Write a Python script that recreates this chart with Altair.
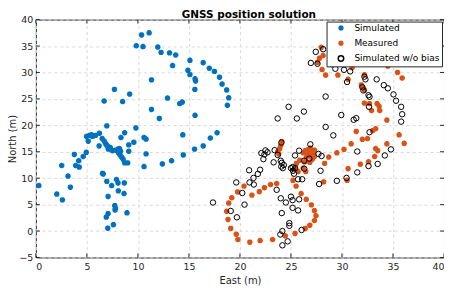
import altair as alt
import pandas as pd

# ---------------- data ----------------
series_names = ["Simulated", "Measured", "Simulated w/o bias"]
series_colors = ["#0072BD", "#D95319", "#000000"]
x_ticks = [0, 5, 10, 15, 20, 25, 30, 35, 40]
y_ticks = [-5, 0, 5, 10, 15, 20, 25, 30, 35, 40]

sim_x = [9.84, 10.36, 10.5, 11.1, 11.95, 12.27, 13.1, 13.7, 13.4, 15.1, 16.4, 17.0, 17.5, 14.9, 15.1,
         15.6, 15.65, 18.0, 18.25, 18.7, 18.9, 18.77, 15.58, 14.1, 14.35, 12.9, 11.33, 11.33, 12.1, 15.6,
         7.7, 9.19, 6.69, 8.5, 6.95, 9.8, 14.4, 17.76, 17.1, 16.4, 15.55, 14.45, 8.7, 8.34, 10.6, 10.8,
         9.6, 9.1, 9.1, 10.8, 10.6, 12.4, 13.3,
         0.29, 2.05, 2.6, 2.53, 3.15, 3.38, 3.77, 3.9, 4.25, 4.2, 4.64, 4.94, 5.13, 4.97, 5.25, 5.45,
         5.65, 5.85, 5.5, 6.23, 6.2, 6.5, 6.7, 6.85, 6.95, 7.05, 7.2, 7.3, 7.1, 7.5, 7.85, 8.05, 8.2,
         8.3, 8.1, 8.25, 8.4, 8.55, 8.7, 9.0, 6.53, 6.6, 6.95, 7.43, 7.9, 8.05, 8.67, 8.08, 8.64, 7.08,
         7.73, 7.8, 7.76, 8.93, 7.08, 6.9, 7.6, 7.05]
sim_y = [35.05, 37.1, 34.9, 37.5, 34.8, 33.8, 33.7, 33.3, 31.3, 32.3, 31.85, 30.8, 30.2, 30.4, 29.6,
         28.8, 28.4, 29.1, 27.8, 26.7, 25.2, 23.8, 26.8, 24.1, 24.4, 25.15, 28.6, 23.0, 21.3, 21.9,
         26.8, 25.9, 24.6, 24.5, 19.9, 19.5, 18.2, 18.6, 17.6, 16.1, 15.5, 14.4, 18.6, 17.7, 17.7, 17.4,
         16.8, 16.3, 15.1, 14.6, 12.2, 12.7, 13.3,
         8.6, 7.0, 5.9, 12.4, 10.4, 8.3, 14.5, 12.4, 12.1, 13.3, 14.1, 14.9, 17.0, 17.9, 18.1, 18.2,
         18.0, 18.1, 17.95, 18.5, 16.1, 17.5, 17.0, 16.5, 16.2, 16.0, 15.6, 15.8, 15.5, 15.2, 15.3, 15.5, 15.6,
         15.1, 14.8, 14.4, 14.0, 13.6, 12.9, 12.9, 10.9, 10.8, 9.4, 8.6, 9.75, 9.1, 9.1, 7.6, 7.1, 6.55,
         4.8, 4.3, 4.0, 3.45, 3.3, 2.65, 1.2, 0.55]

meas_x = [27.97, 27.8, 28.15, 27.6, 28.05, 28.4, 29.6, 30.75, 31.0, 30.6, 32.2, 31.9, 32.0, 32.2, 34.5,
          35.45, 35.9, 32.2, 32.7, 33.44, 33.64, 32.9, 33.7, 34.4, 33.3, 33.0, 31.4, 32.5, 32.0, 35.6,
          36.1, 34.4, 30.9, 30.2, 29.5, 28.7, 33.3, 33.5, 28.3, 28.2, 30.5, 30.6, 31.8, 32.6, 33.2,
          24.1, 23.9, 24.0, 23.7, 23.8,
          26.4, 26.7, 27.0, 26.6, 26.9, 27.2, 26.5, 27.1, 26.85, 27.3, 26.2, 26.9, 27.3,
          25.87, 25.54, 25.4, 25.7, 26.2, 26.35, 26.45,
          25.2, 25.5, 26.0, 26.5, 27.0, 27.3, 27.45, 27.3, 26.85, 26.4, 25.4, 24.45, 23.2, 21.98, 20.97,
          19.8, 19.64, 19.1, 18.83, 18.7, 18.9, 19.2, 19.77, 20.4, 21.17, 21.9, 22.4, 23.0, 23.6]
meas_y = [34.75, 32.7, 33.2, 31.9, 30.55, 29.5, 29.5, 31.8, 30.9, 28.7, 29.55, 27.65, 27.3, 26.7, 31.2,
          30.0, 28.95, 24.2, 24.1, 24.1, 23.6, 22.8, 22.8, 21.0, 19.35, 19.0, 18.85, 17.5, 17.35, 18.2,
          16.6, 16.5, 16.5, 15.45, 14.8, 14.0, 15.6, 15.2, 12.8, 9.3, 9.6, 11.8, 12.65, 13.1, 14.1,
          16.9, 15.6, 16.2, 15.0, 14.6,
          15.2, 15.4, 15.0, 14.6, 14.2, 14.6, 13.9, 13.6, 13.0, 15.3, 14.8, 15.7, 14.1,
          13.4, 12.8, 11.9, 11.25, 11.9, 13.1, 11.25,
          9.6, 8.5, 7.1, 6.0, 4.95, 3.85, 2.9, 2.0, 1.1, 0.5, -0.45, -0.9, -1.6, -1.8, -2.1,
          -1.6, -0.6, 0.5, 2.2, 3.75, 5.3, 6.3, 7.4, 8.5, 6.8, 7.45, 8.2, 8.8, 9.0]

nob_x = [27.43, 28.15, 26.95, 27.6, 29.0, 29.35, 30.2, 30.8, 30.5, 32.2, 32.3, 33.4, 34.1, 34.5, 35.05,
         35.3, 35.8, 35.9, 35.8, 32.0, 32.1, 32.6, 32.7, 32.65, 32.7, 28.4, 24.77, 26.27, 25.58, 23.7,
         29.93, 31.15, 31.4, 28.4, 29.15, 26.9, 24.06, 34.8, 31.5,
         17.36,
         19.64, 20.23, 20.45, 19.1, 19.7, 20.9, 20.94, 21.36, 21.33, 21.75, 21.98,
         22.1, 22.5, 22.7, 22.4, 22.3, 23.4, 23.7, 23.3, 24.0, 24.1, 24.3, 24.05, 24.2,
         23.6, 24.0, 24.5, 25.0, 25.16, 25.8, 25.16, 25.7, 24.1, 24.84, 24.84, 24.16, 23.96, 24.68, 24.16, 26.04,
         25.0, 25.16, 25.4, 25.2, 25.4, 25.8, 25.3, 25.7, 26.1, 26.3, 26.3, 26.8, 27.7, 28.0, 27.9, 27.76,
         29.5, 30.45, 31.5, 32.6, 33.5, 34.2]
nob_y = [33.9, 34.4, 31.8, 31.65, 31.55, 30.7, 30.5, 30.2, 28.2, 29.2, 28.7, 28.7, 27.6, 27.0, 25.85,
         24.65, 23.5, 22.1, 20.7, 27.2, 26.6, 25.7, 25.4, 23.5, 18.7, 25.45, 23.5, 22.6, 21.3, 21.3,
         21.95, 21.05, 21.35, 19.7, 18.1, 16.4, 16.75, 15.45, 15.05,
         5.4,
         9.2, 7.2, 5.0, 3.8, 2.6, 11.5, 9.2, 8.8, 10.05, 10.8, 11.6,
         14.75, 15.25, 14.9, 14.5, 13.6, 15.3, 14.4, 13.0, 13.3, 12.9, 12.5, 12.2, 11.9,
         7.8, 6.2, 5.4, 6.5, 5.85, 6.0, 4.4, 3.9, 3.4, 1.5, 1.0, 0.0, -0.65, -1.95, -2.7, 0.2,
         11.9, 12.1, 11.9, 11.4, 14.3, 15.2, 10.85, 9.8, 9.8, 13.3, 11.8, 13.7, 14.6, 14.2, 11.4, 8.9,
         9.5, 10.05, 11.1, 12.3, 12.7, 14.3]

# ---------------- tables ----------------
star_df = pd.DataFrame({
    "east": sim_x + meas_x,
    "north": sim_y + meas_y,
    "series": [series_names[0]] * len(sim_x) + [series_names[1]] * len(meas_x),
})
circ_df = pd.DataFrame({"east": nob_x, "north": nob_y, "series": [series_names[2]] * len(nob_x)})
xt_df = pd.DataFrame({"east": x_ticks})
yt_df = pd.DataFrame({"north": y_ticks})

W, H = 410, 239
TICK = 4
ASTER = "M0,-1L0,1M-1,0L1,0M-0.72,-0.72L0.72,0.72M-0.72,0.72L0.72,-0.72"
FONT = "DejaVu Sans"

xs = alt.Scale(domain=[0, 40], nice=False, zero=False)
ys = alt.Scale(domain=[-5, 40], nice=False, zero=False)
cs = alt.Scale(domain=series_names, range=series_colors)
ss = alt.Scale(domain=series_names, range=[ASTER, ASTER, "circle"])

legend = alt.Legend(
    title=None, orient="none", legendX=292, legendY=2,
    fillColor="white", strokeColor="#262626", padding=2, cornerRadius=0,
    symbolSize=30, symbolStrokeWidth=1.5, symbolOffset=8, labelOffset=9,
    labelFont=FONT, labelFontSize=9, labelColor="black", rowPadding=2.3, labelLimit=300,
)

x_axis = alt.Axis(values=x_ticks, title="East (m)", labelPadding=4, titleBaseline="alphabetic",
                  titleY=26, titleX=W / 2, grid=True)
y_axis = alt.Axis(values=y_ticks, title="North (m)", labelPadding=3, titleBaseline="alphabetic",
                  titleX=-20, titleY=H / 2, grid=True)
x_enc = alt.X("east:Q", scale=xs, axis=x_axis)
y_enc = alt.Y("north:Q", scale=ys, axis=y_axis)

stars = alt.Chart(star_df).mark_point(filled=False, strokeWidth=1.8, size=30, opacity=1).encode(
    x=x_enc, y=y_enc,
    color=alt.Color("series:N", scale=cs, legend=legend),
    shape=alt.Shape("series:N", scale=ss, legend=legend),
)
circles = alt.Chart(circ_df).mark_point(filled=False, strokeWidth=1.0, size=30, opacity=1).encode(
    x=x_enc, y=y_enc,
    color=alt.Color("series:N", scale=cs, legend=legend),
    shape=alt.Shape("series:N", scale=ss, legend=legend),
)

tick_style = dict(color="#262626", strokeWidth=1)
bt = alt.Chart(xt_df).mark_rule(**tick_style).encode(
    x=x_enc, y=alt.value(H), y2=alt.value(H - TICK))
tt = alt.Chart(xt_df).mark_rule(**tick_style).encode(
    x=x_enc, y=alt.value(0), y2=alt.value(TICK))
lt = alt.Chart(yt_df).mark_rule(**tick_style).encode(
    y=y_enc, x=alt.value(0), x2=alt.value(TICK))
rt = alt.Chart(yt_df).mark_rule(**tick_style).encode(
    y=y_enc, x=alt.value(W), x2=alt.value(W - TICK))

chart = alt.layer(stars, circles, bt, tt, lt, rt).properties(
    width=W, height=H,
    title=alt.TitleParams("GNSS position solution", font=FONT, fontSize=10.5, fontWeight="bold",
                          color="black", anchor="middle", frame="group", baseline="alphabetic",
                          offset=3, dx=9, dy=17),
    autosize=alt.AutoSizeParams(type="none"),
    padding={"left": 28, "top": 11, "right": 0, "bottom": 29},
).configure_view(
    stroke="#262626", strokeWidth=1
).configure_axis(
    domain=False, ticks=False,
    labelFont=FONT, labelFontSize=9.5, labelColor="#262626",
    titleFont=FONT, titleFontSize=10, titleFontWeight="normal", titleColor="#262626",
    gridColor="#d9d9d9", gridDash=[3, 3], gridWidth=1,
)

chart.save("out.html", embed_options={"renderer": "svg", "actions": False})
